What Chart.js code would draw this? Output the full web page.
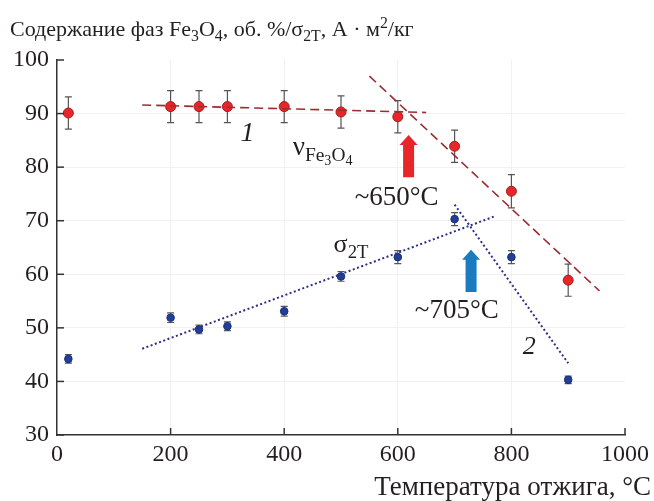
<!DOCTYPE html>
<html>
<head>
<meta charset="utf-8">
<script src="https://cdn.jsdelivr.net/npm/chart.js@4/dist/chart.umd.min.js"></script>
<style>
  html, body { margin: 0; padding: 0; background: #fff; }
  #c { display: block; }
</style>
</head>
<body>
<canvas id="c" width="654" height="501"></canvas>
<script>
// ---- data ----
const temps      = [20, 200, 250, 300, 400, 500, 600, 700, 800, 900];
const fe3o4      = [90.1, 91.3, 91.3, 91.3, 91.3, 90.3, 89.4, 83.9, 75.5, 58.9];
const fe3o4Err   = [3.0, 3.0, 3.0, 3.0, 3.0, 3.0, 3.0, 3.0, 3.1, 3.0];
const sigma2T    = [44.2, 51.9, 49.7, 50.3, 53.1, 59.6, 63.2, 70.3, 63.2, 40.3];
const sigmaErr   = [0.8, 0.9, 0.8, 0.8, 0.9, 0.9, 1.2, 1.2, 1.2, 0.7];

const fitFe1X    = [150, 650];  const fitFe1Y    = [91.6, 90.2];
const fitFe2X    = [550, 955];  const fitFe2Y    = [97.0, 56.9];
const fitSig1X   = [150, 770];  const fitSig1Y   = [46.1, 70.8];
const fitSig2X   = [700, 900];  const fitSig2Y   = [73.0, 43.4];

const xTicks = [0, 200, 400, 600, 800, 1000];
const yTicks = [30, 40, 50, 60, 70, 80, 90, 100];

// annotations (data coordinates)
const arrows = [
  { x: 619, yTip: 86.0, yBase: 78.1, color: '#e8262a' },
  { x: 729, yTip: 64.6, yBase: 56.7, color: '#1b7bbf' }
];
const FONT = '"Liberation Serif", "DejaVu Serif", serif';

const pts = (xs, ys) => xs.map((x, i) => ({ x: x, y: ys[i] }));

function drawRich(ctx, x, y, segs, size, italic) {
  let cx = x;
  for (const s of segs) {
    let fs = size, dy = 0;
    if (s.s === 'sub') { fs = size * 0.72; dy = size * 0.22; }
    if (s.s === 'sup') { fs = size * 0.72; dy = -size * 0.38; }
    if (s.s === 'sub2') { fs = size * 0.52; dy = size * 0.36; }
    ctx.font = (italic ? 'italic ' : '') + fs + 'px ' + FONT;
    ctx.fillText(s.t, cx, y + dy);
    cx += ctx.measureText(s.t).width;
  }
}

const decor = {
  id: 'decor',
  beforeDatasetsDraw(chart) {
    const ctx = chart.ctx, xs = chart.scales.x, ys = chart.scales.y;
    ctx.save();
    ctx.strokeStyle = '#555';
    ctx.lineWidth = 1.2;
    const bars = (vals, errs) => {
      temps.forEach((t, i) => {
        const px = xs.getPixelForValue(t);
        const y1 = ys.getPixelForValue(vals[i] + errs[i]);
        const y2 = ys.getPixelForValue(vals[i] - errs[i]);
        ctx.beginPath();
        ctx.moveTo(px, y1); ctx.lineTo(px, y2);
        ctx.moveTo(px - 3.5, y1); ctx.lineTo(px + 3.5, y1);
        ctx.moveTo(px - 3.5, y2); ctx.lineTo(px + 3.5, y2);
        ctx.stroke();
      });
    };
    bars(fe3o4, fe3o4Err);
    bars(sigma2T, sigmaErr);
    ctx.restore();
  },
  afterDraw(chart) {
    const ctx = chart.ctx, xs = chart.scales.x, ys = chart.scales.y;
    const ca = chart.chartArea;
    ctx.save();
    // inward ticks
    ctx.strokeStyle = '#333';
    ctx.lineWidth = 1.5;
    yTicks.forEach(v => {
      const py = ys.getPixelForValue(v);
      ctx.beginPath(); ctx.moveTo(ca.left, py); ctx.lineTo(ca.left + 7, py); ctx.stroke();
    });
    xTicks.forEach(v => {
      if (v === 0) return;
      const px = xs.getPixelForValue(v);
      ctx.beginPath(); ctx.moveTo(px, ca.bottom); ctx.lineTo(px, ca.bottom - 7); ctx.stroke();
    });
    // arrows
    arrows.forEach(a => {
      const px = xs.getPixelForValue(a.x);
      const tip = ys.getPixelForValue(a.yTip);
      const base = ys.getPixelForValue(a.yBase);
      const sw = 5.5, hw = 9, hl = 10;
      ctx.fillStyle = a.color;
      ctx.beginPath();
      ctx.moveTo(px, tip);
      ctx.lineTo(px + hw, tip + hl);
      ctx.lineTo(px + sw, tip + hl);
      ctx.lineTo(px + sw, base);
      ctx.lineTo(px - sw, base);
      ctx.lineTo(px - sw, tip + hl);
      ctx.lineTo(px - hw, tip + hl);
      ctx.closePath();
      ctx.fill();
    });
    // texts
    ctx.fillStyle = '#231f20';
    ctx.textBaseline = 'alphabetic';
    ctx.textAlign = 'left';
    drawRich(ctx, 10, 36, [
      { t: 'Содержание фаз Fe' }, { t: '3', s: 'sub' }, { t: 'O' }, { t: '4', s: 'sub' },
      { t: ', об. %/σ' }, { t: '2T', s: 'sub' }, { t: ', А · м' }, { t: '2', s: 'sup' }, { t: '/кг' }
    ], 22);
    ctx.textAlign = 'right';
    ctx.font = '27px ' + FONT;
    ctx.fillText('Температура отжига, °C', 651, 495);
    ctx.textAlign = 'left';
    const P = (x, y) => [xs.getPixelForValue(x), ys.getPixelForValue(y)];
    let p;
    p = P(524, 72.9); ctx.font = '27px ' + FONT; ctx.fillText('~650°C', p[0], p[1]);
    p = P(630, 51.8); ctx.fillText('~705°C', p[0], p[1]);
    p = P(415, 82.2);
    drawRich(ctx, p[0], p[1], [{ t: 'ν' }, { t: 'Fe', s: 'sub' }, { t: '3', s: 'sub2' }, { t: 'O', s: 'sub' }, { t: '4', s: 'sub2' }], 27);
    p = P(487, 64.2); drawRich(ctx, p[0], p[1], [{ t: 'σ' }, { t: '2T', s: 'sub' }], 26);
    p = P(323, 84.9); ctx.font = 'italic 28px ' + FONT; ctx.fillText('1', p[0], p[1]);
    p = P(820, 45.2); ctx.font = 'italic 26px ' + FONT; ctx.fillText('2', p[0], p[1]);
    ctx.restore();
  }
};

const gridCol = c => (c.tick && (c.tick.value === 1000 || c.tick.value === 100 || c.tick.value === 0 || c.tick.value === 30)) ? 'rgba(0,0,0,0)' : '#f1f1f1';

new Chart(document.getElementById('c'), {
  type: 'scatter',
  data: {
    datasets: [
      { type: 'line', data: pts(fitFe1X, fitFe1Y), borderColor: '#9b2d30', borderWidth: 1.6, borderDash: [9, 5], pointRadius: 0, fill: false },
      { type: 'line', data: pts(fitFe2X, fitFe2Y), borderColor: '#9b2d30', borderWidth: 1.6, borderDash: [9, 5], pointRadius: 0, fill: false },
      { type: 'line', data: pts(fitSig1X, fitSig1Y), borderColor: '#2b2f86', borderWidth: 2, borderDash: [2, 2.5], pointRadius: 0, fill: false },
      { type: 'line', data: pts(fitSig2X, fitSig2Y), borderColor: '#2b2f86', borderWidth: 2, borderDash: [2, 2.5], pointRadius: 0, fill: false },
      { data: pts(temps, fe3o4), pointRadius: 5, pointBackgroundColor: '#e8262a', pointBorderColor: '#a51c1f', pointBorderWidth: 1, showLine: false },
      { data: pts(temps, sigma2T), pointRadius: 3.8, pointBackgroundColor: '#1f3f98', pointBorderColor: '#1a2f78', pointBorderWidth: 1, showLine: false }
    ]
  },
  options: {
    responsive: false,
    animation: false,
    devicePixelRatio: 1,
    layout: { padding: { top: 60, right: 29, left: 0, bottom: 0 } },
    plugins: { legend: { display: false }, tooltip: { enabled: false } },
    scales: {
      x: {
        type: 'linear', min: 0, max: 1000,
        afterBuildTicks: s => { s.ticks = xTicks.map(v => ({ value: v })); },
        afterFit: s => { s.height = 66; },
        grid: { color: gridCol, drawTicks: false, lineWidth: 1 },
        border: { display: true, color: '#333', width: 1.5 },
        ticks: { padding: 5, color: '#231f20', font: { family: FONT, size: 24 }, maxRotation: 0, callback: v => String(v) }
      },
      y: {
        type: 'linear', min: 30, max: 100,
        afterBuildTicks: s => { s.ticks = yTicks.map(v => ({ value: v })); },
        afterFit: s => { s.width = 57; },
        grid: { color: gridCol, drawTicks: false, lineWidth: 1 },
        border: { display: true, color: '#333', width: 1.5 },
        ticks: { padding: 8, color: '#231f20', font: { family: FONT, size: 24 }, callback: v => String(v) }
      }
    }
  },
  plugins: [decor]
});
</script>
</body>
</html>
